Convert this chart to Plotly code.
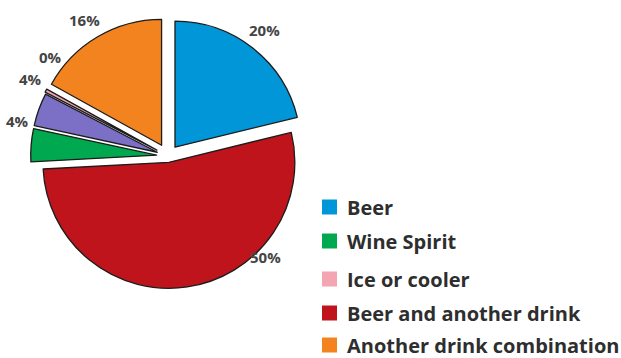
import plotly.graph_objects as go

# Drink shares, clockwise from 12 o'clock
slice_names = ["Beer", "Beer and another drink", "Wine Spirit", "Wine", "Ice or cooler",
               "Another drink combination"]
slice_values = [20, 50, 4, 4, 0.4, 16]
slice_labels = ["20%", "50%", "4%", "4%", "0%", "16%"]
slice_colors = ["#0096d8", "#c0141c", "#00a84f", "#7b70c6", "#f3a5b1", "#f3831f"]
slice_pull = [0.09, 0.05, 0.09, 0.09, 0.1, 0.1]

# Legend entries (in display order)
legend_names = ["Beer", "Wine Spirit", "Ice or cooler", "Beer and another drink",
                "Another drink combination"]
legend_colors = ["#0096d8", "#00a84f", "#f3a5b1", "#c0141c", "#f3831f"]

W, H = 621, 358

# Percentage label centres, in pixels from the top-left corner
label_px = [(264, 30), (265, 257), (17, 121), (30, 79), (50, 57), (84, 20)]
# Legend rows: vertical centres (px from top), swatch left edge, text left edge
legend_rows_y = [207, 241, 279, 313, 345]
swatch_x, swatch_size, legend_text_x = 322, 15, 345


def px_x(v):
    return v / W


def px_y(v):
    return 1 - v / H


fig = go.Figure()

fig.add_trace(go.Pie(
    labels=slice_names,
    values=slice_values,
    sort=False,
    direction="clockwise",
    rotation=0,
    pull=slice_pull,
    marker=dict(colors=slice_colors, line=dict(color="#1c1c1c", width=1.3)),
    textinfo="none",
    showlegend=False,
    domain=dict(x=[0.0473, 0.4937], y=[0.177, 0.951]),
    hoverinfo="label+percent",
))

for text, (lx, ly) in zip(slice_labels, label_px):
    fig.add_annotation(
        x=px_x(lx), y=px_y(ly), xref="paper", yref="paper", text=text, showarrow=False,
        xanchor="center", yanchor="middle",
        font=dict(family="Open Sans", size=15, color="#444444", weight="bold"),
    )

for name, color, cy in zip(legend_names, legend_colors, legend_rows_y):
    fig.add_shape(
        type="rect", xref="paper", yref="paper",
        x0=px_x(swatch_x), x1=px_x(swatch_x + swatch_size),
        y0=px_y(cy + swatch_size / 2), y1=px_y(cy - swatch_size / 2),
        fillcolor=color, line=dict(width=0),
    )
    fig.add_annotation(
        x=px_x(legend_text_x), y=px_y(cy), xref="paper", yref="paper",
        xanchor="left", yanchor="middle", text=name, showarrow=False,
        font=dict(family="Open Sans", size=20, color="#2e2e2e", weight="bold"),
    )

fig.update_layout(
    width=W, height=H,
    margin=dict(l=0, r=0, t=0, b=0),
    paper_bgcolor="white", plot_bgcolor="white",
)

fig.write_html("out.html")
